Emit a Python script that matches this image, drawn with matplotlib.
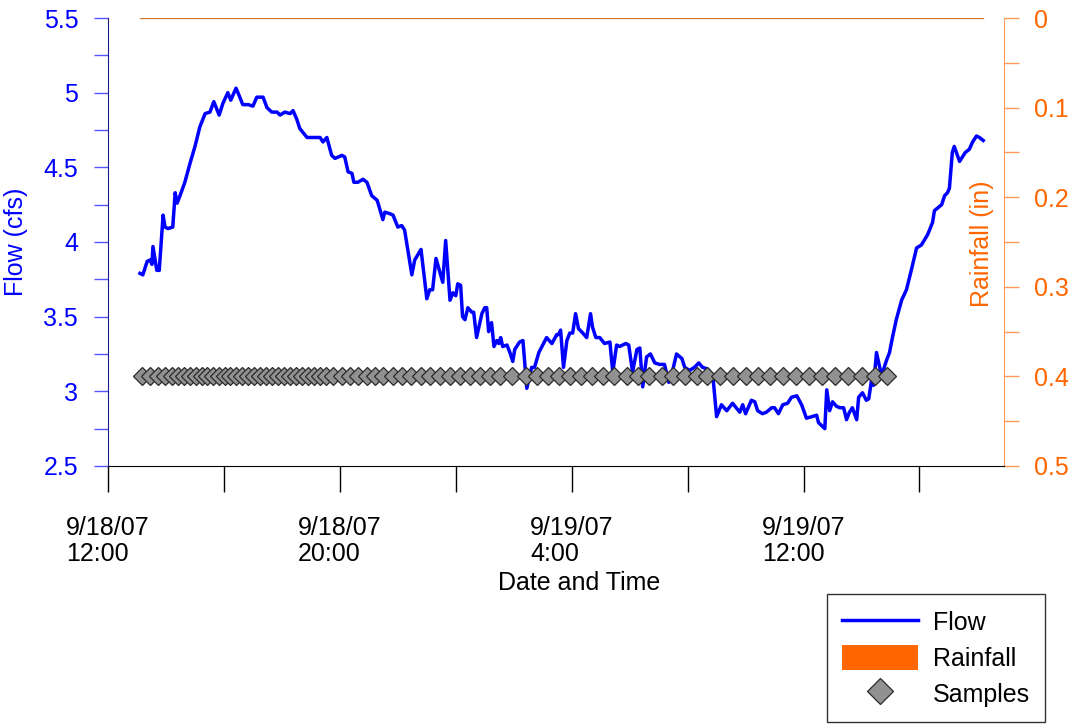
import matplotlib
matplotlib.use("Agg")
import matplotlib.pyplot as plt
import matplotlib.dates as mdates
from matplotlib.lines import Line2D
from matplotlib.patches import Patch
from matplotlib.ticker import MultipleLocator, FuncFormatter
import pandas as pd

plt.rcParams['font.family'] = ['Liberation Sans', 'DejaVu Sans']

start = pd.Timestamp("2007-09-18 12:00")

# Flow series: minutes after 9/18/07 12:00, flow (cfs)
flow_minutes = [66, 72, 81, 87, 91, 93, 101, 106, 114, 118, 124, 134, 139, 143, 149, 159, 170, 180, 190, 201,
                211, 219, 230, 238, 248, 254, 265, 269, 279, 290, 300, 308, 321, 329, 339, 350, 356, 366, 377, 383,
                391, 397, 412, 424, 439, 445, 453, 463, 470, 484, 490, 497, 505, 509, 517, 528, 536, 546, 557, 559,
                569, 573, 583, 590, 600, 608, 614, 629, 635, 648, 660, 666, 672, 679, 693, 699, 708, 714, 720, 724,
                730, 734, 739, 745, 753, 757, 763, 774, 780, 784, 788, 794, 799, 805, 809, 813, 817, 826, 832, 838,
                842, 852, 859, 867, 877, 883, 892, 900, 908, 919, 929, 933, 937, 943, 950, 956, 962, 968, 974, 983,
                991, 999, 1003, 1010, 1018, 1028, 1039, 1045, 1053, 1059, 1072, 1078, 1086, 1095, 1101, 1107, 1115,
                1123, 1132, 1142, 1152, 1161, 1169, 1177, 1188, 1194, 1204, 1214, 1223, 1231, 1241, 1252, 1260, 1270,
                1281, 1293, 1308, 1314, 1320, 1332, 1339, 1345, 1355, 1363, 1374, 1380, 1388, 1397, 1407, 1415, 1426,
                1436, 1446, 1457, 1467, 1471, 1484, 1488, 1494, 1500, 1508, 1515, 1523, 1529, 1535, 1541, 1550, 1554,
                1562, 1570, 1575, 1581, 1585, 1591, 1599, 1603, 1612, 1618, 1624, 1632, 1643, 1653, 1663, 1674, 1684,
                1697, 1707, 1711, 1726, 1732, 1738, 1742, 1748, 1752, 1763, 1775, 1783, 1790, 1798, 1804, 1812]
flow_cfs = [3.79, 3.78, 3.87, 3.88, 3.85, 3.97, 3.81, 3.81, 4.18, 4.10, 4.09, 4.10, 4.33, 4.26, 4.31, 4.40, 4.53, 4.64, 4.77, 4.86,
            4.87, 4.94, 4.85, 4.93, 5.00, 4.95, 5.03, 5.00, 4.92, 4.92, 4.91, 4.97, 4.97, 4.90, 4.87, 4.87, 4.85, 4.87, 4.86, 4.88,
            4.82, 4.76, 4.70, 4.70, 4.70, 4.67, 4.70, 4.58, 4.56, 4.58, 4.57, 4.47, 4.46, 4.40, 4.40, 4.42, 4.40, 4.31, 4.28, 4.26,
            4.15, 4.20, 4.19, 4.18, 4.10, 4.11, 4.08, 3.78, 3.88, 3.95, 3.62, 3.68, 3.68, 3.89, 3.73, 4.01, 3.61, 3.66, 3.64, 3.72,
            3.71, 3.50, 3.48, 3.56, 3.53, 3.53, 3.36, 3.52, 3.56, 3.56, 3.40, 3.46, 3.30, 3.34, 3.32, 3.36, 3.30, 3.31, 3.26, 3.20,
            3.28, 3.33, 3.34, 3.02, 3.16, 3.16, 3.26, 3.31, 3.36, 3.32, 3.38, 3.38, 3.41, 3.16, 3.34, 3.39, 3.39, 3.52, 3.42, 3.39,
            3.36, 3.52, 3.43, 3.36, 3.36, 3.32, 3.33, 3.13, 3.31, 3.30, 3.32, 3.31, 3.13, 3.28, 3.29, 3.03, 3.23,
            3.25, 3.19, 3.18, 3.18, 3.06, 3.14, 3.25, 3.22, 3.16, 3.14, 3.16, 3.19, 3.16, 3.15, 3.11, 2.83, 2.91,
            2.87, 2.92, 2.86, 2.91, 2.85, 2.94, 2.93, 2.87, 2.85, 2.86, 2.89, 2.89, 2.85, 2.91, 2.92, 2.96, 2.97,
            2.91, 2.82, 2.83, 2.84, 2.79, 2.75, 3.01, 2.87, 2.93, 2.90, 2.89, 2.89, 2.81, 2.86, 2.89, 2.81, 2.96,
            2.99, 2.94, 2.95, 3.08, 3.04, 3.26, 3.14, 3.12, 3.21, 3.26, 3.36, 3.48, 3.61, 3.68, 3.81, 3.96, 3.98,
            4.05, 4.13, 4.21, 4.25, 4.31, 4.33, 4.36, 4.60, 4.64, 4.54, 4.60, 4.62, 4.67, 4.71, 4.70, 4.68]

# Sample times: minutes after 9/18/07 12:00, plotted at 3.1 cfs
sample_minutes = [70, 87, 103, 118, 132, 145, 157, 170, 182, 194, 205, 217, 230, 242, 252, 265, 277, 290, 302, 314,
                  327, 339, 352, 364, 377, 389, 401, 414, 426, 439, 451, 466, 484, 501, 517, 536, 552, 569, 590, 608,
                  627, 648, 666, 687, 708, 728, 749, 770, 790, 811, 836, 865, 888, 910, 933, 956, 979, 1001, 1024,
                  1047, 1074, 1097, 1121, 1146, 1169, 1194, 1219, 1241, 1266, 1293, 1320, 1345, 1371, 1398, 1425,
                  1452, 1479, 1506, 1533, 1560, 1587, 1612]
sample_level = 3.1

# Rainfall (in): none recorded during the period
rain_minutes = [66, 1812]
rain_in = [0.0, 0.0]

flow_t = [start + pd.Timedelta(minutes=m) for m in flow_minutes]
samp_t = [start + pd.Timedelta(minutes=m) for m in sample_minutes]
rain_t = [start + pd.Timedelta(minutes=m) for m in rain_minutes]

BLUE = '#0000ff'
ORANGE = '#ff6600'
ORANGE_L = '#ff9a5c'
FS = 18

fig = plt.figure(figsize=(10.75, 7.24), dpi=100)
ax = fig.add_axes([0.1005, 0.3564, 0.8339, 0.9751 - 0.3564])
ax2 = ax.twinx()

ax.plot(flow_t, flow_cfs, color=BLUE, lw=2.5, zorder=3)
ax.plot(samp_t, [sample_level] * len(samp_t), linestyle='none', marker='D', ms=9,
        markerfacecolor='#919191', markeredgecolor='#2a2a2a', markeredgewidth=0.9, zorder=4)
ax2.plot(rain_t, rain_in, color='#d9772e', lw=1.0)

ax.set_ylim(2.5, 5.5)
ax2.set_ylim(0.5, 0.0)
ax.set_xlim(start, start + pd.Timedelta(minutes=1856))
ax.set_zorder(ax2.get_zorder() + 1)
ax.patch.set_visible(False)

fmt = FuncFormatter(lambda v, p: '%g' % round(v, 3))
ax.yaxis.set_major_locator(MultipleLocator(0.5))
ax.yaxis.set_minor_locator(MultipleLocator(0.25))
ax.yaxis.set_major_formatter(fmt)
ax2.yaxis.set_major_locator(MultipleLocator(0.1))
ax2.yaxis.set_minor_locator(MultipleLocator(0.05))
ax2.yaxis.set_major_formatter(fmt)


def xfmt(v, p):
    d = mdates.num2date(v)
    return '%d/%d/%02d\n%d:%02d' % (d.month, d.day, d.year % 100, d.hour, d.minute)


ax.xaxis.set_major_locator(mdates.HourLocator(byhour=[4, 12, 20]))
ax.xaxis.set_minor_locator(mdates.HourLocator(byhour=[0, 8, 16]))
ax.xaxis.set_major_formatter(FuncFormatter(xfmt))

ax.spines['top'].set_visible(False)
ax2.spines['top'].set_visible(False)
ax.spines['right'].set_visible(False)
ax2.spines['left'].set_visible(False)
ax2.spines['bottom'].set_visible(False)
ax.spines['left'].set_color('#1a1a80')
ax2.spines['right'].set_color(ORANGE_L)
ax.spines['bottom'].set_color('black')

ax.tick_params(axis='y', which='both', direction='out', length=10, width=1, color='#5555ff',
               labelcolor=BLUE, labelsize=FS, pad=11.5)
ax2.tick_params(axis='y', which='both', direction='out', length=11, width=1, color=ORANGE_L,
                labelcolor=ORANGE, labelsize=FS, pad=10)
ax.tick_params(axis='x', which='both', direction='out', length=19, width=1, colors='black',
               labelsize=FS, pad=17)
for lab in ax.get_xticklabels():
    lab.set_multialignment('left')
    lab.set_linespacing(1.12)

ax.set_xlabel('Date and Time', fontsize=FS)
ax.xaxis.set_label_coords(0.526, -0.235)
ax.set_ylabel('Flow (cfs)', fontsize=FS, color=BLUE)
ax.yaxis.set_label_coords(-0.089, 0.5)
ax2.set_ylabel('Rainfall (in)', fontsize=FS, color=ORANGE)
ax2.yaxis.set_label_coords(0.961, 0.495)

handles = [Line2D([], [], color=BLUE, lw=2.5),
           Patch(facecolor=ORANGE, edgecolor='none'),
           Line2D([], [], linestyle='none', marker='D', ms=13, markerfacecolor='#919191',
                  markeredgecolor='#2a2a2a', markeredgewidth=0.9)]
leg = fig.legend(handles, ['Flow', 'Rainfall', 'Samples'], loc='lower right',
                 bbox_to_anchor=(0.972, 0.003), fontsize=FS, frameon=True, fancybox=False,
                 edgecolor='black', handlelength=3.05, handleheight=1.2, borderpad=0.6,
                 labelspacing=0.38, handletextpad=0.6, borderaxespad=0)
leg.get_frame().set_linewidth(1.0)

fig.savefig('out.png', dpi=100)
